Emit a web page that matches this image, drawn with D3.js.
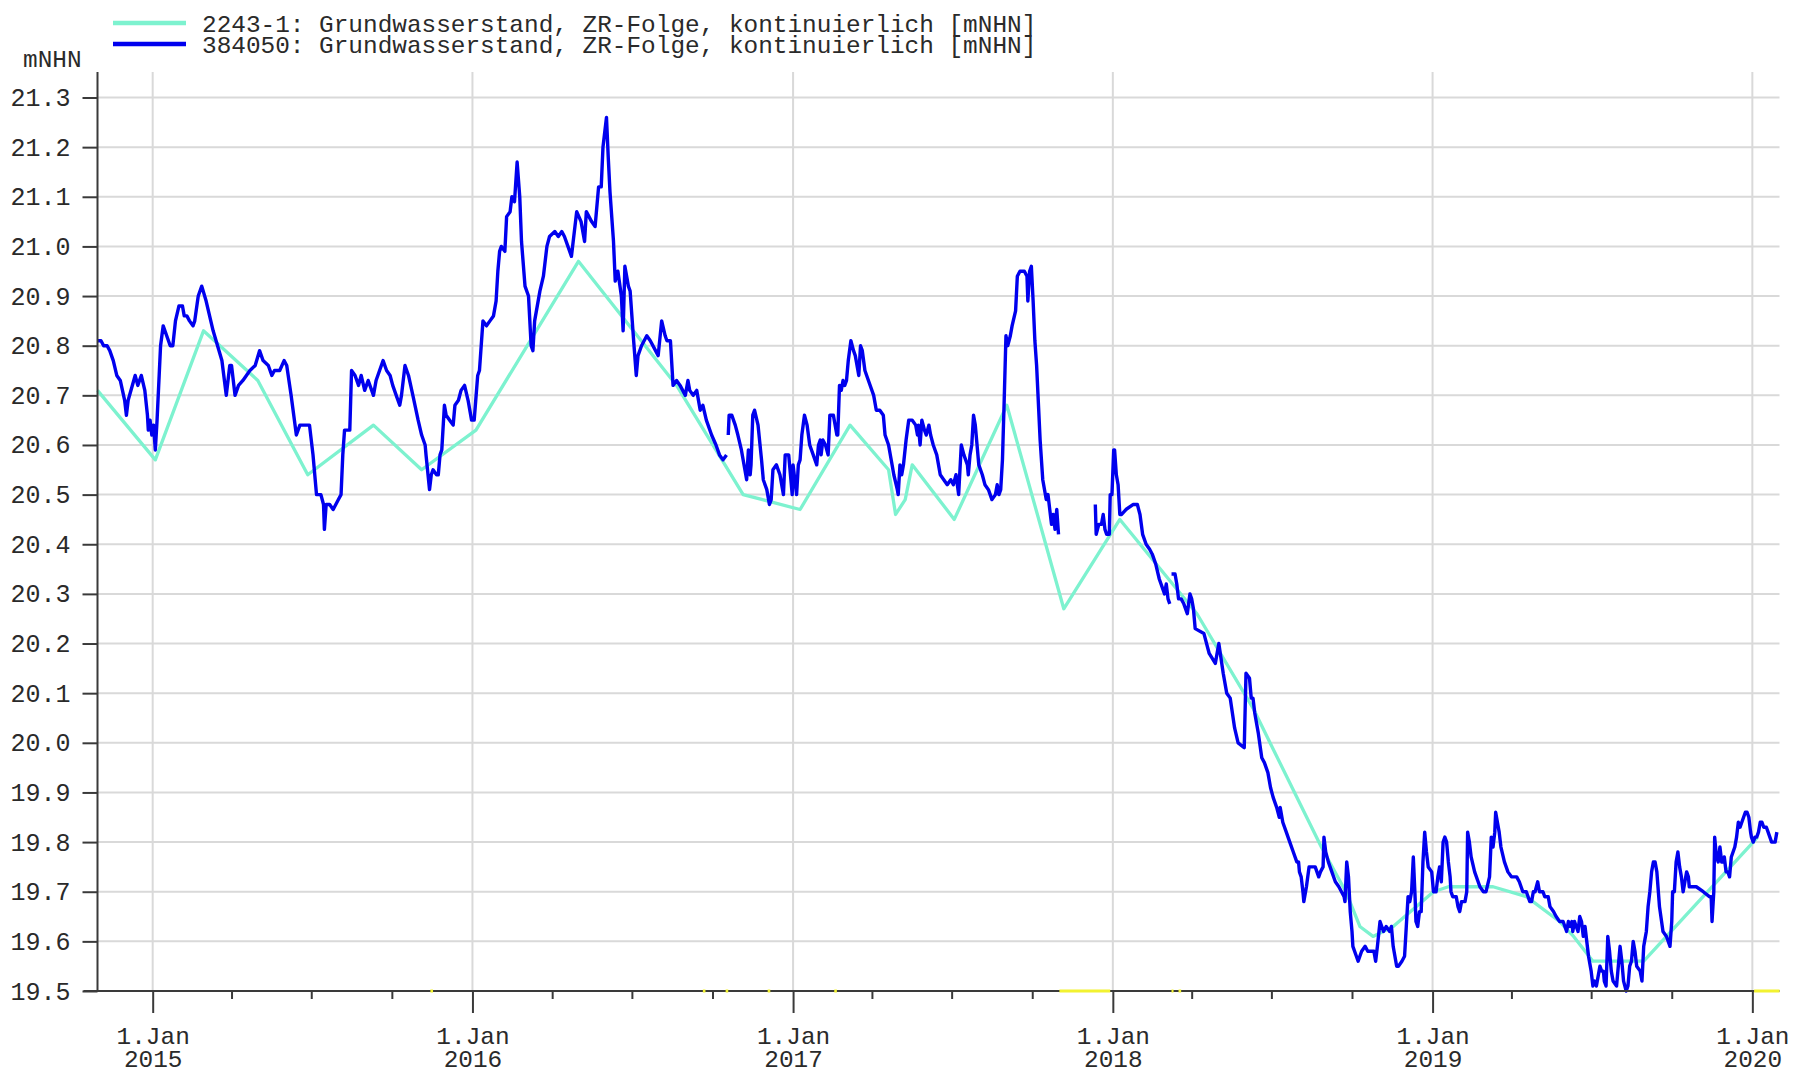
<!DOCTYPE html>
<html><head><meta charset="utf-8">
<script src="https://cdn.jsdelivr.net/npm/d3@7"></script>
<style>
html,body{margin:0;padding:0;background:#fff;}
svg{display:block;}
text{font-family:"Liberation Mono","Courier New",monospace;}
</style></head>
<body>
<svg id="chart" width="1806" height="1081"></svg>
<script>
// ---- data ----
const legendLabels = [
  "2243-1: Grundwasserstand, ZR-Folge, kontinuierlich [mNHN]",
  "384050: Grundwasserstand, ZR-Folge, kontinuierlich [mNHN]"
];
const yUnit = "mNHN";
const yTicks = [19.5,19.6,19.7,19.8,19.9,20.0,20.1,20.2,20.3,20.4,20.5,20.6,20.7,20.8,20.9,21.0,21.1,21.2,21.3];
const yearTicks = ["2015-01-01","2016-01-01","2017-01-01","2018-01-01","2019-01-01","2020-01-01"];
const yearLabels = ["2015","2016","2017","2018","2019","2020"];
const xDomain = ["2014-10-30","2020-02-01"];

const series2243 = [
["2014-10-30",20.71],["2015-01-04",20.57],["2015-02-28",20.83],["2015-05-01",20.73],["2015-06-27",20.54],
["2015-09-10",20.64],["2015-11-04",20.55],["2016-01-05",20.63],["2016-05-01",20.97],["2016-08-21",20.72],
["2016-11-05",20.50],["2017-01-09",20.47],["2017-03-07",20.64],["2017-04-20",20.55],["2017-04-28",20.46],
["2017-05-09",20.49],["2017-05-17",20.56],["2017-07-04",20.45],["2017-09-02",20.68],["2017-11-06",20.27],
["2018-01-09",20.45],["2018-04-07",20.26],["2018-06-10",20.07],["2018-08-27",19.79],["2018-09-24",19.70],
["2018-10-10",19.63],["2018-10-25",19.61],["2018-11-17",19.63],["2019-01-02",19.70],["2019-01-19",19.71],
["2019-03-11",19.71],["2019-04-18",19.69],["2019-05-26",19.64],["2019-06-11",19.61],["2019-07-03",19.56],
["2019-08-30",19.56],["2020-01-02",19.80],["2020-01-07",19.81]
];

const series384050 = [
["2014-10-30",20.81],["2014-11-03",20.81],["2014-11-06",20.80],["2014-11-10",20.80],["2014-11-13",20.79],["2014-11-17",20.77],["2014-11-21",20.74],["2014-11-25",20.73],["2014-11-30",20.69],["2014-12-02",20.66],["2014-12-04",20.69],["2014-12-12",20.74],["2014-12-15",20.72],["2014-12-19",20.74],["2014-12-23",20.71],["2014-12-26",20.66],["2014-12-27",20.63],["2014-12-29",20.65],["2014-12-31",20.62],["2015-01-02",20.64],["2015-01-04",20.59],["2015-01-06",20.65],["2015-01-10",20.80],["2015-01-13",20.84],["2015-01-17",20.82],["2015-01-21",20.80],["2015-01-24",20.80],["2015-01-27",20.85],["2015-01-31",20.88],["2015-02-04",20.88],["2015-02-06",20.86],["2015-02-09",20.86],["2015-02-12",20.85],["2015-02-16",20.84],["2015-02-18",20.85],["2015-02-22",20.90],["2015-02-26",20.92],["2015-03-03",20.89],["2015-03-11",20.83],["2015-03-21",20.77],["2015-03-26",20.70],["2015-03-30",20.76],["2015-04-01",20.76],["2015-04-05",20.70],["2015-04-09",20.72],["2015-04-14",20.73],["2015-04-18",20.74],["2015-04-22",20.75],["2015-04-28",20.76],["2015-05-03",20.79],["2015-05-07",20.77],["2015-05-13",20.76],["2015-05-17",20.74],["2015-05-20",20.75],["2015-05-26",20.75],["2015-05-31",20.77],["2015-06-03",20.76],["2015-06-08",20.70],["2015-06-14",20.62],["2015-06-18",20.64],["2015-06-29",20.64],["2015-07-03",20.58],["2015-07-07",20.50],["2015-07-12",20.50],["2015-07-15",20.48],["2015-07-16",20.43],["2015-07-18",20.48],["2015-07-22",20.48],["2015-07-26",20.47],["2015-08-01",20.49],["2015-08-04",20.50],["2015-08-06",20.58],["2015-08-08",20.63],["2015-08-14",20.63],["2015-08-16",20.75],["2015-08-20",20.74],["2015-08-24",20.72],["2015-08-27",20.74],["2015-08-31",20.71],["2015-09-04",20.73],["2015-09-10",20.70],["2015-09-13",20.73],["2015-09-17",20.75],["2015-09-21",20.77],["2015-09-25",20.75],["2015-09-29",20.74],["2015-10-02",20.72],["2015-10-06",20.70],["2015-10-10",20.68],["2015-10-12",20.70],["2015-10-16",20.76],
["2015-10-20",20.74],["2015-10-25",20.70],["2015-10-31",20.65],["2015-11-04",20.62],["2015-11-08",20.60],["2015-11-09",20.58],["2015-11-13",20.51],["2015-11-15",20.54],["2015-11-17",20.55],["2015-11-21",20.54],["2015-11-23",20.54],["2015-11-25",20.58],["2015-11-27",20.59],["2015-11-30",20.68],["2015-12-02",20.66],["2015-12-06",20.65],["2015-12-10",20.64],["2015-12-12",20.68],["2015-12-16",20.69],["2015-12-19",20.71],["2015-12-23",20.72],["2015-12-27",20.69],["2015-12-31",20.65],["2016-01-03",20.65],["2016-01-07",20.74],["2016-01-09",20.75],["2016-01-13",20.85],["2016-01-17",20.84],["2016-01-21",20.85],["2016-01-25",20.86],["2016-01-28",20.89],["2016-01-30",20.95],["2016-02-01",20.99],["2016-02-03",21.00],["2016-02-07",20.99],["2016-02-09",21.06],["2016-02-13",21.07],["2016-02-15",21.10],["2016-02-18",21.09],["2016-02-21",21.17],["2016-02-24",21.10],["2016-02-26",21.01],["2016-03-01",20.92],["2016-03-05",20.90],["2016-03-08",20.80],["2016-03-10",20.79],["2016-03-12",20.85],["2016-03-18",20.91],["2016-03-22",20.94],["2016-03-26",21.00],["2016-03-29",21.02],["2016-04-04",21.03],["2016-04-08",21.02],["2016-04-12",21.03],["2016-04-15",21.02],["2016-04-19",21.00],["2016-04-23",20.98],["2016-04-29",21.07],["2016-05-04",21.05],["2016-05-08",21.01],["2016-05-10",21.07],["2016-05-16",21.05],["2016-05-20",21.04],["2016-05-24",21.12],["2016-05-27",21.12],["2016-05-29",21.20],["2016-05-31",21.23],["2016-06-02",21.26],["2016-06-04",21.18],["2016-06-06",21.11],["2016-06-10",21.01],["2016-06-12",20.93],["2016-06-15",20.95],["2016-06-19",20.90],["2016-06-21",20.83],["2016-06-23",20.96],["2016-06-27",20.92],["2016-06-29",20.91],["2016-07-03",20.81],["2016-07-06",20.74],["2016-07-08",20.78],["2016-07-12",20.80],["2016-07-18",20.82],["2016-07-22",20.81],["2016-07-28",20.79],["2016-07-31",20.78],["2016-08-04",20.85],["2016-08-08",20.82],["2016-08-10",20.81],["2016-08-14",20.81],["2016-08-17",20.72],["2016-08-21",20.73],["2016-08-25",20.72],["2016-08-31",20.70],["2016-09-03",20.73],["2016-09-05",20.71],["2016-09-09",20.70],["2016-09-13",20.71],["2016-09-17",20.67],["2016-09-20",20.68],["2016-09-24",20.65],["2016-09-30",20.62],["2016-10-05",20.60],["2016-10-09",20.58],["2016-10-13",20.57],["2016-10-17",20.58],
["2016-10-18",null],
["2016-10-19",20.62],["2016-10-20",20.66],["2016-10-23",20.66],["2016-10-27",20.64],["2016-10-30",20.62],["2016-11-03",20.59],["2016-11-07",20.55],["2016-11-09",20.53],["2016-11-11",20.59],["2016-11-13",20.54],["2016-11-14",20.56],["2016-11-16",20.66],["2016-11-18",20.67],["2016-11-22",20.64],["2016-11-26",20.57],["2016-11-28",20.53],["2016-12-02",20.51],["2016-12-05",20.48],["2016-12-07",20.49],["2016-12-09",20.55],["2016-12-13",20.56],["2016-12-17",20.54],["2016-12-21",20.50],["2016-12-23",20.58],["2016-12-27",20.58],["2016-12-29",20.54],["2016-12-31",20.50],["2017-01-01",20.56],["2017-01-05",20.50],["2017-01-07",20.56],["2017-01-09",20.57],["2017-01-11",20.62],["2017-01-14",20.66],["2017-01-17",20.64],["2017-01-20",20.60],["2017-01-24",20.58],["2017-01-28",20.56],["2017-01-30",20.60],["2017-02-01",20.61],["2017-02-02",20.58],["2017-02-04",20.61],["2017-02-07",20.60],["2017-02-10",20.58],["2017-02-12",20.66],["2017-02-16",20.66],["2017-02-20",20.62],["2017-02-21",20.62],["2017-02-23",20.72],["2017-02-25",20.71],["2017-02-27",20.73],["2017-03-01",20.72],["2017-03-03",20.73],["2017-03-05",20.77],["2017-03-08",20.81],["2017-03-11",20.79],["2017-03-13",20.78],["2017-03-15",20.76],["2017-03-17",20.74],["2017-03-19",20.80],["2017-03-21",20.79],["2017-03-24",20.75],["2017-03-28",20.73],["2017-04-03",20.70],["2017-04-06",20.67],["2017-04-10",20.67],["2017-04-14",20.66],["2017-04-16",20.62],["2017-04-20",20.60],["2017-04-24",20.56],["2017-04-26",20.54],["2017-04-30",20.51],["2017-05-01",20.50],["2017-05-03",20.56],["2017-05-05",20.54],["2017-05-07",20.56],["2017-05-10",20.61],["2017-05-13",20.65],["2017-05-17",20.65],["2017-05-21",20.64],["2017-05-23",20.62],["2017-05-24",20.64],["2017-05-26",20.60],["2017-05-28",20.65],["2017-05-31",20.63],["2017-06-02",20.62],["2017-06-05",20.64],["2017-06-07",20.62],["2017-06-10",20.60],["2017-06-14",20.58],["2017-06-18",20.54],["2017-06-22",20.53],["2017-06-26",20.52],["2017-06-30",20.53],["2017-07-03",20.52],["2017-07-06",20.54],["2017-07-09",20.50],["2017-07-12",20.60],["2017-07-15",20.58],["2017-07-19",20.56],["2017-07-20",20.54],["2017-07-22",20.58],["2017-07-24",20.60],["2017-07-26",20.66],["2017-07-28",20.64],["2017-08-01",20.56],["2017-08-05",20.54],["2017-08-08",20.52],["2017-08-12",20.51],["2017-08-16",20.49],["2017-08-20",20.50],["2017-08-22",20.52],["2017-08-24",20.50],["2017-08-26",20.51],["2017-08-28",20.57],["2017-08-30",20.69],["2017-09-01",20.82],["2017-09-03",20.80],["2017-09-06",20.82],["2017-09-08",20.84],["2017-09-12",20.87],["2017-09-14",20.94],["2017-09-17",20.95],["2017-09-22",20.95],["2017-09-25",20.94],["2017-09-26",20.89],["2017-09-28",20.95],["2017-09-30",20.96],["2017-10-02",20.89],["2017-10-04",20.81],["2017-10-06",20.76],["2017-10-10",20.61],["2017-10-13",20.53],["2017-10-17",20.49],["2017-10-19",20.50],["2017-10-23",20.44],["2017-10-25",20.46],["2017-10-27",20.43],["2017-10-29",20.47],["2017-10-31",20.42],
["2017-11-15",null],
["2017-12-12",20.48],["2017-12-13",20.42],["2017-12-16",20.44],["2017-12-19",20.44],["2017-12-21",20.46],["2017-12-23",20.43],["2017-12-25",20.42],["2017-12-28",20.42],["2017-12-29",20.50],["2017-12-31",20.50],["2018-01-02",20.59],["2018-01-03",20.59],["2018-01-05",20.54],["2018-01-07",20.52],["2018-01-09",20.46],["2018-01-11",20.46],["2018-01-16",20.47],["2018-01-24",20.48],["2018-01-29",20.48],["2018-02-01",20.46],["2018-02-04",20.42],["2018-02-08",20.40],["2018-02-12",20.39],["2018-02-15",20.38],["2018-02-19",20.36],["2018-02-23",20.33],["2018-02-27",20.31],["2018-03-01",20.30],["2018-03-03",20.32],["2018-03-05",20.29],["2018-03-07",20.28],
["2018-03-08",null],
["2018-03-09",20.34],["2018-03-13",20.34],["2018-03-15",20.32],["2018-03-17",20.29],["2018-03-20",20.29],["2018-03-23",20.28],["2018-03-27",20.26],["2018-03-30",20.30],["2018-04-01",20.29],["2018-04-03",20.27],["2018-04-05",20.23],["2018-04-15",20.22],["2018-04-21",20.18],["2018-04-28",20.16],["2018-05-02",20.20],["2018-05-07",20.14],["2018-05-11",20.10],["2018-05-15",20.09],["2018-05-20",20.03],["2018-05-24",20.00],["2018-05-31",19.99],["2018-06-02",20.14],["2018-06-06",20.13],
["2018-06-08",20.09],["2018-06-10",20.09],["2018-06-12",20.06],["2018-06-16",20.02],["2018-06-20",19.97],["2018-06-23",19.96],["2018-06-27",19.94],["2018-06-30",19.91],["2018-07-03",19.89],["2018-07-07",19.87],["2018-07-10",19.85],["2018-07-11",19.87],["2018-07-13",19.85],["2018-07-14",19.84],["2018-07-18",19.82],["2018-07-22",19.80],["2018-07-26",19.78],["2018-07-30",19.76],["2018-08-01",19.76],["2018-08-02",19.74],["2018-08-04",19.73],["2018-08-06",19.70],["2018-08-07",19.68],["2018-08-10",19.71],["2018-08-13",19.75],["2018-08-16",19.75],["2018-08-18",19.75],["2018-08-20",19.75],["2018-08-22",19.74],["2018-08-24",19.73],["2018-08-26",19.74],["2018-08-29",19.75],["2018-08-30",19.81],["2018-09-01",19.78],["2018-09-04",19.76],["2018-09-08",19.74],["2018-09-12",19.72],["2018-09-16",19.71],["2018-09-19",19.70],["2018-09-22",19.69],["2018-09-23",19.68],["2018-09-25",19.76],["2018-09-27",19.73],["2018-09-29",19.66],["2018-10-01",19.62],["2018-10-02",19.59],["2018-10-06",19.57],["2018-10-08",19.56],["2018-10-12",19.58],["2018-10-16",19.59],["2018-10-19",19.58],["2018-10-23",19.58],["2018-10-26",19.58],["2018-10-28",19.56],["2018-10-30",19.59],["2018-11-02",19.64],["2018-11-04",19.63],["2018-11-06",19.62],["2018-11-09",19.63],["2018-11-13",19.62],["2018-11-15",19.63],["2018-11-17",19.59],["2018-11-21",19.55],["2018-11-23",19.55],["2018-11-27",19.56],["2018-11-30",19.57],["2018-12-02",19.63],["2018-12-04",19.69],["2018-12-06",19.68],["2018-12-08",19.70],["2018-12-10",19.77],["2018-12-12",19.69],["2018-12-13",19.64],["2018-12-15",19.63],["2018-12-17",19.66],["2018-12-19",19.66],["2018-12-21",19.76],["2018-12-23",19.82],["2018-12-25",19.78],["2018-12-27",19.75],["2018-12-31",19.74],["2019-01-02",19.70],["2019-01-05",19.70],["2019-01-07",19.73],["2019-01-09",19.75],["2019-01-11",19.72],["2019-01-13",19.80],["2019-01-15",19.81],["2019-01-17",19.80],["2019-01-19",19.76],["2019-01-21",19.73],["2019-01-22",19.70],["2019-01-24",19.69],["2019-01-28",19.69],["2019-01-30",19.67],["2019-02-01",19.66],["2019-02-03",19.68],["2019-02-07",19.68],["2019-02-09",19.70],["2019-02-10",19.82],["2019-02-12",19.80],["2019-02-14",19.77],["2019-02-18",19.74],["2019-02-24",19.71],["2019-02-28",19.70],["2019-03-03",19.70],["2019-03-07",19.73],["2019-03-09",19.81],["2019-03-11",19.79],["2019-03-13",19.82],["2019-03-14",19.86],["2019-03-16",19.84],["2019-03-18",19.82],["2019-03-20",19.79],["2019-03-24",19.76],["2019-03-28",19.74],["2019-04-01",19.73],["2019-04-07",19.73],["2019-04-10",19.72],["2019-04-14",19.70],["2019-04-18",19.70],["2019-04-22",19.68],["2019-04-24",19.68],["2019-04-26",19.70],["2019-04-28",19.70],["2019-05-01",19.72],["2019-05-03",19.70],["2019-05-07",19.70],["2019-05-09",19.69],["2019-05-13",19.69],["2019-05-15",19.67],["2019-05-19",19.66],["2019-05-22",19.65],["2019-05-26",19.64],
["2019-05-28",19.64],["2019-05-30",19.64],["2019-06-01",19.63],["2019-06-03",19.62],["2019-06-05",19.64],["2019-06-07",19.63],["2019-06-09",19.64],["2019-06-10",19.62],["2019-06-12",19.64],["2019-06-14",19.63],["2019-06-16",19.62],["2019-06-18",19.65],["2019-06-20",19.64],["2019-06-22",19.61],["2019-06-24",19.63],["2019-06-28",19.57],["2019-07-01",19.54],["2019-07-03",19.51],["2019-07-05",19.52],["2019-07-07",19.51],["2019-07-09",19.53],["2019-07-11",19.55],["2019-07-13",19.54],["2019-07-15",19.54],["2019-07-16",19.52],["2019-07-18",19.51],["2019-07-20",19.61],["2019-07-22",19.58],["2019-07-24",19.54],["2019-07-26",19.52],["2019-07-30",19.51],["2019-08-01",19.55],["2019-08-03",19.59],["2019-08-05",19.56],["2019-08-07",19.52],["2019-08-10",19.50],["2019-08-12",19.51],["2019-08-14",19.55],["2019-08-16",19.56],["2019-08-18",19.60],["2019-08-20",19.58],["2019-08-22",19.55],["2019-08-26",19.54],["2019-08-28",19.52],["2019-08-30",19.59],["2019-08-31",19.60],["2019-09-02",19.62],["2019-09-04",19.67],["2019-09-06",19.70],["2019-09-08",19.74],["2019-09-10",19.76],["2019-09-12",19.76],["2019-09-14",19.74],["2019-09-17",19.67],["2019-09-21",19.62],["2019-09-25",19.61],["2019-09-29",19.59],["2019-10-01",19.64],["2019-10-02",19.70],["2019-10-04",19.70],["2019-10-06",19.76],["2019-10-08",19.78],["2019-10-10",19.75],["2019-10-12",19.73],["2019-10-14",19.70],["2019-10-16",19.72],["2019-10-18",19.74],["2019-10-20",19.73],["2019-10-21",19.71],["2019-10-23",19.71],["2019-10-29",19.71],["2019-11-06",19.70],["2019-11-13",19.69],["2019-11-15",19.69],["2019-11-16",19.64],["2019-11-18",19.70],["2019-11-19",19.81],["2019-11-21",19.77],["2019-11-23",19.76],["2019-11-25",19.79],["2019-11-27",19.76],["2019-11-29",19.76],["2019-11-30",19.77],["2019-12-02",19.74],["2019-12-04",19.74],["2019-12-06",19.73],["2019-12-08",19.77],["2019-12-10",19.78],["2019-12-12",19.79],["2019-12-14",19.81],["2019-12-16",19.84],["2019-12-18",19.83],["2019-12-20",19.84],["2019-12-24",19.86],["2019-12-26",19.86],["2019-12-28",19.85],["2019-12-30",19.82],["2019-12-31",19.81],["2020-01-02",19.80],["2020-01-04",19.81],["2020-01-06",19.81],["2020-01-08",19.82],["2020-01-10",19.84],["2020-01-12",19.84],["2020-01-14",19.83],["2020-01-15",19.83],["2020-01-17",19.83],["2020-01-19",19.82],["2020-01-21",19.81],["2020-01-23",19.80],["2020-01-25",19.80],["2020-01-27",19.80],["2020-01-29",19.82]
];

const gapMarks = [
["2015-11-14","2015-11-17"],["2016-09-20","2016-09-23"],["2016-10-16","2016-10-19"],["2016-12-03","2016-12-06"],
["2017-02-17","2017-02-20"],["2017-11-01","2017-12-29"],["2018-03-09","2018-03-11"],["2018-03-17","2018-03-20"],
["2020-01-03","2020-02-01"]
];

const colors = {green:"#7df2cf", blue:"#0000ee", grid:"#d9d9d9", axis:"#3a3a3a", text:"#2a2a2a", gap:"#f2f230"};

// ---- drawing ----
const parse = d3.utcParse("%Y-%m-%d");
const svg = d3.select("#chart");
const L = 97.5, R = 1779.5, T = 72, B = 991;
const FS = 24.4;

const x = d3.scaleUtc().domain(xDomain.map(parse)).range([L, R]);
const y = d3.scaleLinear().domain([19.5, 21.3]).range([B, 97.5]);

svg.append("rect").attr("width",1806).attr("height",1081).attr("fill","#fff");

// horizontal grid
svg.append("g").selectAll("line").data(yTicks.filter(v=>v>19.5)).join("line")
  .attr("x1",L).attr("x2",R).attr("y1",d=>y(d)).attr("y2",d=>y(d))
  .attr("stroke",colors.grid).attr("stroke-width",2);
// vertical grid
svg.append("g").selectAll("line").data(yearTicks.map(parse)).join("line")
  .attr("x1",d=>x(d)).attr("x2",d=>x(d)).attr("y1",T).attr("y2",B)
  .attr("stroke",colors.grid).attr("stroke-width",2);

// lines
const line = d3.line().defined(d=>d[1]!==null).x(d=>x(parse(d[0]))).y(d=>y(d[1]));
svg.append("path").datum(series2243).attr("d",line).attr("fill","none")
  .attr("stroke",colors.green).attr("stroke-width",3.3).attr("stroke-linejoin","round");
svg.append("path").datum(series384050).attr("d",line).attr("fill","none")
  .attr("stroke",colors.blue).attr("stroke-width",3.4).attr("stroke-linejoin","round");

// y axis
const yAxis = d3.axisLeft(y).tickValues(yTicks).tickSize(15).tickPadding(12).tickFormat(d3.format(".1f"));
const gy = svg.append("g").attr("transform",`translate(${L},0)`).call(yAxis);
gy.select(".domain").remove();
gy.selectAll(".tick line").attr("stroke",colors.axis).attr("stroke-width",2);
gy.selectAll(".tick text").attr("font-size",25).attr("fill",colors.text)
  .attr("font-family",'"Liberation Mono","Courier New",monospace').attr("dy","0.32em");
svg.append("line").attr("x1",L).attr("x2",L).attr("y1",T).attr("y2",B+1)
  .attr("stroke",colors.axis).attr("stroke-width",2);

// x axis
const quarters = d3.utcMonth.every(3).range(x.domain()[0], x.domain()[1]).filter(d=>d.getUTCMonth()!==0);
const xMinor = d3.axisBottom(x).tickValues(quarters).tickSize(8).tickFormat("");
const gxm = svg.append("g").attr("transform",`translate(0,${B})`).call(xMinor);
gxm.select(".domain").remove();
gxm.selectAll(".tick line").attr("stroke",colors.axis).attr("stroke-width",2);

const xMajor = d3.axisBottom(x).tickValues(yearTicks.map(parse)).tickSize(22).tickFormat("");
const gx = svg.append("g").attr("transform",`translate(0,${B})`).call(xMajor);
gx.select(".domain").remove();
gx.selectAll(".tick line").attr("stroke",colors.axis).attr("stroke-width",2);
gx.selectAll(".tick").each(function(d,i){
  const g = d3.select(this);
  g.append("text").attr("y",53).attr("text-anchor","middle").attr("font-size",FS).attr("fill",colors.text).text("1.Jan");
  g.append("text").attr("y",76).attr("text-anchor","middle").attr("font-size",FS).attr("fill",colors.text).text(yearLabels[i]);
});
svg.append("line").attr("x1",L-14).attr("x2",R).attr("y1",B).attr("y2",B)
  .attr("stroke",colors.axis).attr("stroke-width",2);

// gap marks on axis
svg.append("g").selectAll("rect").data(gapMarks).join("rect")
  .attr("x",d=>x(parse(d[0]))).attr("width",d=>Math.max(2,x(parse(d[1]))-x(parse(d[0]))))
  .attr("y",B-1.5).attr("height",3).attr("fill",colors.gap);

// unit label
svg.append("text").attr("x",23).attr("y",67).attr("font-size",FS).attr("fill",colors.text).text(yUnit);

// legend
const legendColors = [colors.green, colors.blue];
const lg = svg.append("g");
legendLabels.forEach((t,i)=>{
  const yy = 23 + i*21;
  lg.append("line").attr("x1",113).attr("x2",186).attr("y1",yy).attr("y2",yy)
    .attr("stroke",legendColors[i]).attr("stroke-width",4.5);
  lg.append("text").attr("x",202).attr("y",yy+8.5).attr("font-size",FS).attr("fill",colors.text).text(t);
});
</script>
</body></html>
